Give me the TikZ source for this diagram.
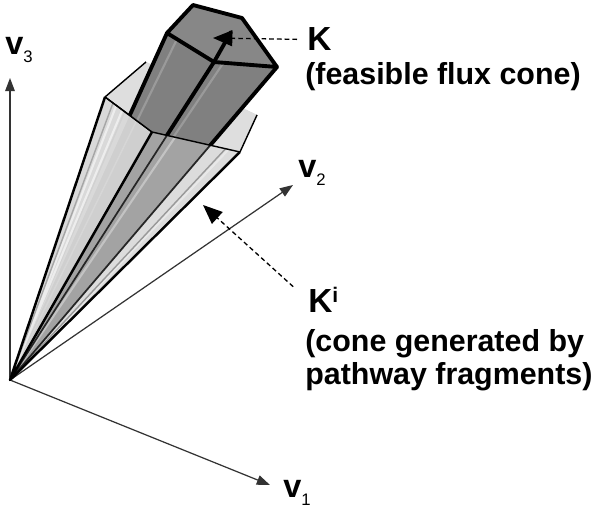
\documentclass[tikz,border=0pt]{standalone}
\usepackage{fontspec}
\setmainfont{Liberation Sans}
\usetikzlibrary{arrows.meta,calc}

\newcommand{\axlab}[1]{\textbf{v}\raisebox{-0.22em}{\fontsize{9.5}{9.5}\selectfont #1}}

\begin{document}
\begin{tikzpicture} [
    x=0.02cm, y=-0.02cm,
    axis/.style    = { draw=black!80, line width=0.7pt,
                       -{Triangle[length=7.5pt,width=5.5pt]} },
    pointer/.style = { draw, line width=0.75pt, dash pattern=on 2.6pt off 1.8pt,
                       -{Triangle[length=11pt,width=9pt]} },
    axlabel/.style = { inner sep=0pt, anchor=base west, font=\fontsize{18.5}{20}\selectfont },
    conelab/.style = { inner sep=0pt, anchor=base west, font=\fontsize{19}{22}\selectfont\bfseries },
    desc/.style    = { inner sep=0pt, anchor=base west, font=\fontsize{17.3}{19}\selectfont\bfseries },
    rim/.style     = { line width=1.4pt, line join=round },
    thinrim/.style = { line width=0.8pt, line join=round },
    prism/.style   = { line width=2.2pt, line join=round, line cap=round },
    streak/.style  = { line width=1.2pt, white, opacity=0.55 },
  ]
  \useasboundingbox (0,0) rectangle (600,513);

  % corners of the two cones
  \coordinate (O)  at (10,380);
  \coordinate (A1) at (105,97);
  \coordinate (A2) at (146,62);
  \coordinate (A3) at (257,115);
  \coordinate (A4) at (240,152);
  \coordinate (A5) at (152,132);
  \coordinate (B1) at (167,33);
  \coordinate (B2) at (193,5);
  \coordinate (B3) at (242,18);
  \coordinate (B4) at (277,67);
  \coordinate (B5) at (214,62);
  \coordinate (kstem) at (231,32);
  \coordinate (ktip)  at (213,38);
  \coordinate (kitip) at (203,205);
  \coordinate (v1tip) at (270,485);
  \coordinate (v2tip) at (293,185);
  \coordinate (v3tip) at (10,78);

  % labels
  \node (v1lab) [axlabel] at (283,498) {\axlab{1}};
  \node (v2lab) [axlabel] at (298,178) {\axlab{2}};
  \node (v3lab) [axlabel] at (5,55) {\axlab{3}};
  \node (Klab)  [conelab] at (307,51) {K};
  \node (Kdesc) [desc] at (305,85) {(feasible flux cone)};
  \node (Kilab) [conelab] at (308,313) {K\raisebox{6pt}{\fontsize{12}{12}\selectfont i}};
  \node (Kidesc) [desc] at (305,352) {(cone generated by};
  \node (Kidesc2) [desc] at (305,385) {pathway fragments)};

  % axes
  \begin{scope}[every path/.style=axis]
  \path (O) -- (v1tip);
  \path (O) -- (v2tip);
  \path (O) -- (v3tip);
  \end{scope}

  % light cone, back part
  \fill[black!17] (O) -- (A1) -- (A2) -- (A3) -- (A4) -- cycle;
  \draw[thinrim, black!40] (O) -- (A2);
  % dark cone inside
  \fill[black!45] (O) -- (B1) -- (B2) -- (B3) -- (B4) -- cycle;
  \draw[thinrim, black!25] (O) -- (B2) (O) -- (B3);
  % light cone, front faces
  \fill[black!14, opacity=0.85] (O) -- (A1) -- (A5) -- cycle;
  \fill[white, opacity=0.2] (O) -- (A5) -- (A4) -- cycle;
  \draw[streak] (O) -- (118,101) (O) -- (124,106);
  \draw[streak, opacity=0.35] (O) -- (180,130) (O) -- (228,150);
  \draw[thinrim, black!35] (O) -- (113,103);
  \draw[thinrim, black!40] (O) -- (A3);
  \draw[line width=1pt, black!85] (O) -- (B4) (O) -- (B5);
  % light cone, top face
  \fill[black!13] (A1) -- (A2) -- (A3) -- (A4) -- (A5) -- cycle;
  \draw[thinrim] (A5) -- (A1) -- (A2) (A3) -- (A4);

  % dark cone above the top face
  \begin{scope}
  \clip (-10,-10) -- (-10,97) -- (A1) -- (A5) -- (A4) -- (610,152) -- (610,-10) -- cycle;
  \fill[black!50] (O) -- (B1) -- (B2) -- (B3) -- (B4) -- cycle;
  \draw[streak, black!35, opacity=0.7] (O) -- (181,31) (O) -- (228,56);
  \draw[prism] (O) -- (B1) (O) -- (B5) (O) -- (B4);
  \end{scope}
  \fill[black!47] (B1) -- (B2) -- (B3) -- (B4) -- (B5) -- cycle;
  \draw[prism] (B1) -- (B2) -- (B3) -- (B4) -- (B5) -- cycle;
  \draw[prism] (B5) -- (kstem);

  % outline of the light cone
  \draw[thinrim] (A1) -- (A5) -- (A4);
  \draw[rim] (A1) -- (O) -- (A4) (O) -- (A5);

  % connect labels
  \begin{scope}[every path/.style=pointer]
  \path[shorten <=0.2cm] (Klab.west) -- (ktip);
  \path[shorten <=0.4cm] (Kilab.west) -- (kitip);
  \end{scope}

\end{tikzpicture}
\end{document}
